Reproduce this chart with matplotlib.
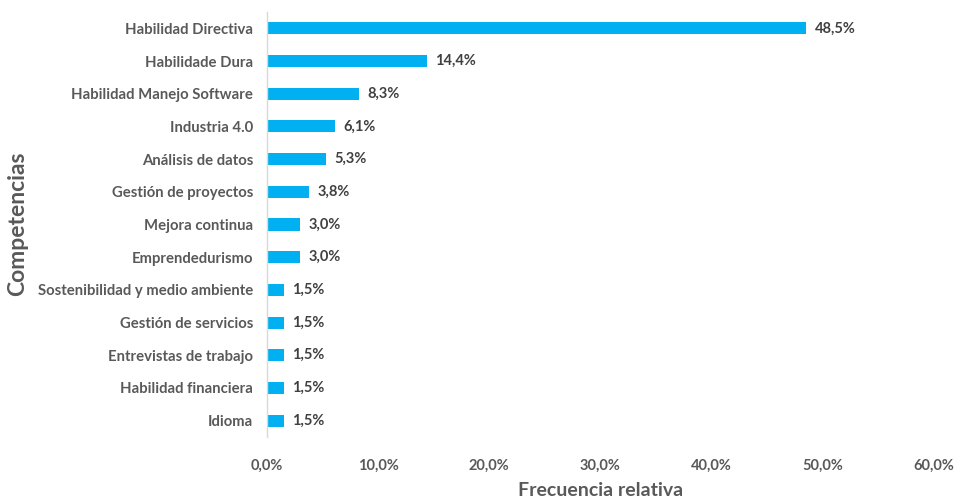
import matplotlib
matplotlib.use("Agg")
import matplotlib.pyplot as plt
from matplotlib.ticker import FuncFormatter

# --- datos ---
competencias = [
    "Habilidad Directiva", "Habilidade Dura", "Habilidad Manejo Software",
    "Industria 4.0", "Análisis de datos", "Gestión de proyectos",
    "Mejora continua", "Emprendedurismo", "Sostenibilidad y medio ambiente",
    "Gestión de servicios", "Entrevistas de trabajo", "Habilidad financiera",
    "Idioma",
]
frecuencia = [48.5, 14.4, 8.3, 6.1, 5.3, 3.8, 3.0, 3.0, 1.5, 1.5, 1.5, 1.5, 1.5]
xticks = [0, 10, 20, 30, 40, 50, 60]

plt.rcParams["font.family"] = ["Lato", "DejaVu Sans"]
plt.rcParams["font.weight"] = "bold"

GRIS = "#595959"
AZUL = "#00B0F0"

fig = plt.figure(figsize=(9.57, 5.01), dpi=100)
ax = fig.add_axes([267 / 957, 1 - 437 / 501, (934 - 267) / 957, (437 - 12) / 501])

pos = list(range(len(competencias)))
ax.barh(pos, frecuencia, height=0.37, color=AZUL)
for y, v in zip(pos, frecuencia):
    ax.text(v + 0.75, y, f"{v:.1f}%".replace(".", ","), va="center", ha="left",
            fontsize=10.5, fontweight="bold", color="#404040")

ax.set_ylim(len(competencias) - 0.5, -0.5)
ax.set_xlim(0, 60)
ax.set_yticks(pos)
ax.set_yticklabels(competencias, fontsize=10.7, fontweight="bold", color=GRIS)
ax.set_xticks(xticks)
ax.xaxis.set_major_formatter(FuncFormatter(lambda x, _: f"{x:.1f}%".replace(".", ",")))
for t in ax.get_xticklabels():
    t.set_fontsize(10.5)
    t.set_fontweight("bold")
    t.set_color(GRIS)
ax.tick_params(axis="both", length=0)
ax.tick_params(axis="y", pad=10)
ax.tick_params(axis="x", pad=16)

for s in ["top", "right", "bottom"]:
    ax.spines[s].set_visible(False)
ax.spines["left"].set_color("#d9d9d9")
ax.spines["left"].set_linewidth(1)

ax.set_xlabel("Frecuencia relativa", fontsize=14, fontweight="bold", color=GRIS, labelpad=6)
fig.text(18 / 957, 1 - 224 / 501, "Competencias", rotation=90, fontsize=16.5,
         fontweight="bold", color=GRIS, ha="center", va="center")

fig.savefig("out.png", dpi=100)
